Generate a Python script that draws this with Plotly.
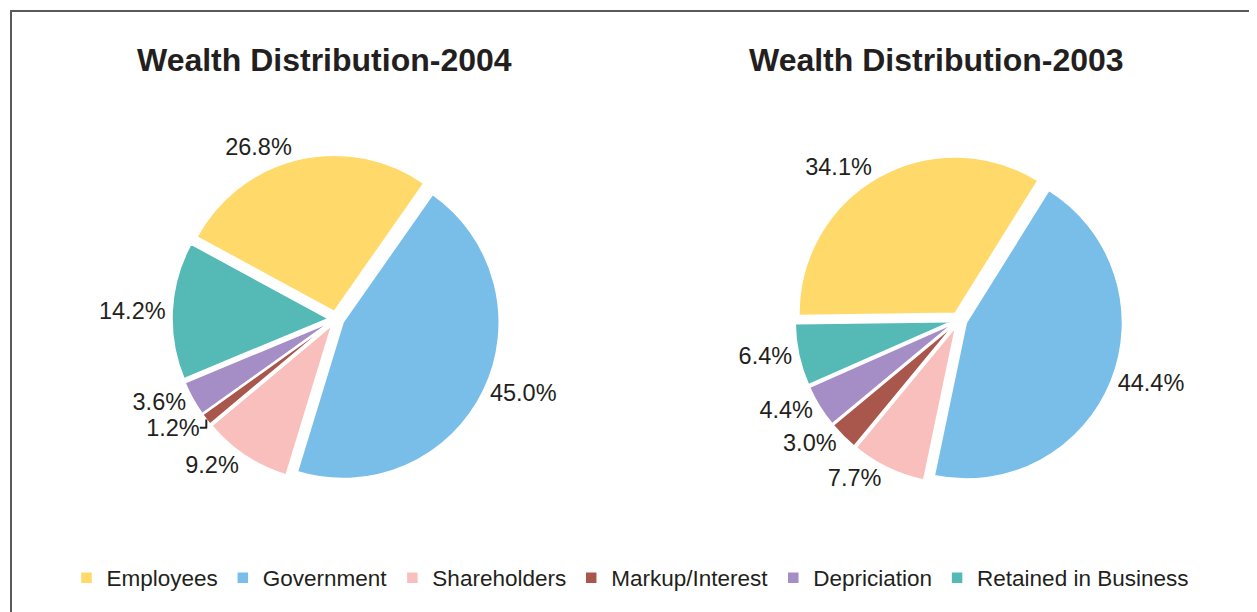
import plotly.graph_objects as go

categories = ["Employees", "Government", "Shareholders", "Markup/Interest",
              "Depriciation", "Retained in Business"]
values_2004 = [26.8, 45.0, 9.2, 1.2, 3.6, 14.2]
values_2003 = [34.1, 44.4, 7.7, 3.0, 4.4, 6.4]
titles = ["Wealth Distribution-2004", "Wealth Distribution-2003"]

colors = ["#FFD96A", "#78BEE8", "#F8BFBC", "#A9574C", "#A58DC6", "#55BAB6"]

# page body has an 8px margin, so the figure is laid out 8px smaller
OFF = 8
W, H = 1257 - OFF, 612 - OFF
TXT = "#231f20"
FONT = "Liberation Sans, Arial, Helvetica, sans-serif"

def px(x):
    return (x - OFF) / W

def py(y):
    return 1 - (y - OFF) / H

def dom(cx, cy, half):
    return dict(x=[px(cx - half), px(cx + half)],
                y=[py(cy + half), py(cy - half)])

fig = go.Figure()
pie_cfg = [
    (values_2004, -61.5, dom(336, 319, 164)),
    (values_2003, -90.8, dom(959, 320, 164)),
]
for i, (vals, rot, d) in enumerate(pie_cfg):
    fig.add_trace(go.Pie(
        labels=categories, values=vals, sort=False, direction="clockwise",
        rotation=rot, domain=d, pull=[0.05] * len(vals),
        marker=dict(colors=colors, line=dict(color="white", width=1.5)),
        texttemplate="%{value:.1f}%", textposition="outside",
        textfont=dict(family=FONT, size=23.5, color=TXT),
        showlegend=(i == 0), hoverinfo="label+value",
    ))

annotations = []
for t, cx in zip(titles, [325, 936]):
    annotations.append(dict(text="<b>%s</b>" % t, x=px(cx), y=py(60),
                            xref="paper", yref="paper", showarrow=False,
                            xanchor="center", yanchor="middle",
                            font=dict(family=FONT, size=32, color=TXT)))

fig.update_layout(
    width=W, height=H, autosize=False,
    margin=dict(l=0, r=0, t=0, b=0),
    paper_bgcolor="white", plot_bgcolor="white",
    annotations=annotations,
    legend=dict(orientation="h", x=px(630), xanchor="center", y=py(578),
                yanchor="middle", font=dict(family=FONT, size=22.5, color=TXT),
                itemclick=False, traceorder="normal"),
    shapes=[dict(type="rect", xref="paper", yref="paper",
                 x0=px(11), x1=1.02, y0=-0.02, y1=py(11),
                 line=dict(color="#5a5a5a", width=2))],
)

fig.write_html("out.html")
